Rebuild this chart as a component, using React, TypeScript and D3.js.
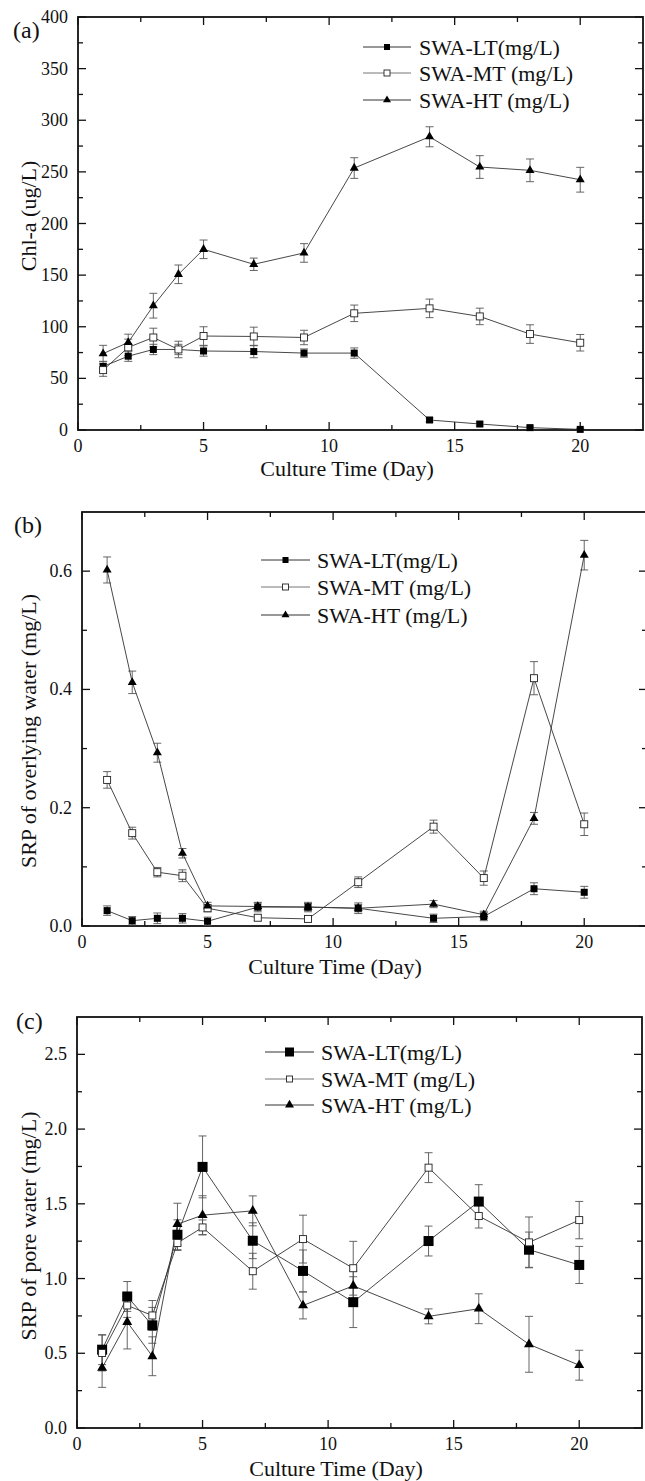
import React, { useEffect, useRef } from 'react';
import * as d3 from 'd3';

// sampling days
const days = [1, 2, 3, 4, 5, 7, 9, 11, 14, 16, 18, 20];

// (a) Chl-a (ug/L)
const chlLT = [61.5, 71.5, 78, 78, 76.5, 76, 74.5, 74.5, 9.7, 5.8, 2.3, 0.6];
const chlLTErr = [5, 5, 5, 5, 5, 6, 4, 5, 2, 2, 1.5, 1];
const chlMT = [58, 80, 89.6, 78, 91, 90.6, 89.6, 113, 117.8, 110, 92.9, 84.5];
const chlMTErr = [6, 8, 9, 8, 9, 9, 7, 8, 9, 8, 9, 8];
const chlHT = [74, 84.8, 120.4, 150.8, 175, 160.5, 171.5, 253.7, 284, 254.7, 251.5, 242.4];
const chlHTErr = [8, 8, 12, 9, 9, 6, 9, 10, 9.7, 11, 11, 12];

// (b) SRP of overlying water (mg/L)
const ovLT = [0.026, 0.009, 0.013, 0.013, 0.008, 0.032, 0.032, 0.03, 0.013, 0.016, 0.063, 0.057];
const ovLTErr = [0.008, 0.007, 0.009, 0.008, 0.007, 0.008, 0.008, 0.009, 0.007, 0.007, 0.01, 0.01];
const ovMT = [0.247, 0.157, 0.091, 0.085, 0.03, 0.014, 0.012, 0.074, 0.168, 0.081, 0.419, 0.172];
const ovMTErr = [0.014, 0.01, 0.008, 0.01, 0.006, 0.005, 0.005, 0.009, 0.011, 0.012, 0.028, 0.019];
const ovHT = [0.602, 0.412, 0.293, 0.123, 0.034, 0.033, 0.032, 0.03, 0.037, 0.019, 0.182, 0.627];
const ovHTErr = [0.022, 0.019, 0.016, 0.008, 0.006, 0.006, 0.006, 0.006, 0.006, 0.006, 0.01, 0.025];

// (c) SRP of pore water (mg/L)
const poLT = [0.524, 0.88, 0.687, 1.293, 1.747, 1.253, 1.051, 0.842, 1.251, 1.515, 1.193, 1.091];
const poLTErr = [0.1, 0.1, 0.12, 0.1, 0.207, 0.12, 0.14, 0.17, 0.1, 0.113, 0.118, 0.124];
const poMT = [0.502, 0.82, 0.753, 1.238, 1.342, 1.049, 1.264, 1.069, 1.742, 1.418, 1.242, 1.391];
const poMTErr = [0.12, 0.08, 0.1, 0.05, 0.05, 0.12, 0.16, 0.18, 0.1, 0.08, 0.17, 0.125];
const poHT = [0.402, 0.709, 0.48, 1.364, 1.424, 1.453, 0.82, 0.951, 0.747, 0.798, 0.56, 0.42];
const poHTErr = [0.13, 0.18, 0.13, 0.14, 0.13, 0.1, 0.09, 0.1, 0.05, 0.1, 0.187, 0.1];

const legendLabels = ['SWA-LT(mg/L)', 'SWA-MT (mg/L)', 'SWA-HT (mg/L)'];
const xTitle = 'Culture Time (Day)';

const FONT = "'Liberation Serif', Tinos, 'Times New Roman', Times, 'DejaVu Serif', serif";

const panels = [
  {
    letter: '(a)', letterX: 13, letterY: 38,
    left: 78, right: 643, top: 17, bottom: 430,
    yMax: 400, yMajor: 50, fmt: d3.format('d'),
    yTitle: 'Chl-a (ug/L)', yTitleY: 216, xTitleX: 347, xTitleDy: 46,
    series: [[chlLT, chlLTErr], [chlMT, chlMTErr], [chlHT, chlHTErr]],
    legend: { x1: 363, x2: 411, tx: 419, rows: [47, 73, 100] },
    sq: 7, tri: 9, legSq: 6,
  },
  {
    letter: '(b)', letterX: 14, letterY: 533,
    left: 82, right: 647, top: 512, bottom: 926,
    yMax: 0.7, yMajor: 0.2, fmt: d3.format('.1f'),
    yTitle: 'SRP of overlying water (mg/L)', yTitleY: 731, xTitleX: 335, xTitleDy: 48,
    series: [[ovLT, ovLTErr], [ovMT, ovMTErr], [ovHT, ovHTErr]],
    legend: { x1: 261, x2: 310, tx: 317, rows: [560, 587, 615] },
    sq: 7, tri: 9, legSq: 6,
  },
  {
    letter: '(c)', letterX: 16, letterY: 1029,
    left: 77, right: 642, top: 1017, bottom: 1428,
    yMax: 2.75, yMajor: 0.5, fmt: d3.format('.1f'),
    yTitle: 'SRP of pore water (mg/L)', yTitleY: 1226, xTitleX: 336, xTitleDy: 48,
    series: [[poLT, poLTErr], [poMT, poMTErr], [poHT, poHTErr]],
    legend: { x1: 265, x2: 314, tx: 321, rows: [1052, 1079, 1105] },
    sq: 10, tri: 10, legSq: 9,
  },
];

function txt(g, x, y, s, size, anchor = 'start', rot = false) {
  g.append('text')
    .attr('transform', rot ? `translate(${x},${y}) rotate(-90)` : `translate(${x},${y})`)
    .style('font-family', FONT)
    .style('font-size', `${size}px`)
    .attr('text-anchor', anchor)
    .attr('fill', '#111')
    .text(s);
}

function marker(g, kind, cx, cy, p, inLegend = false) {
  if (kind === 2) {
    const side = inLegend ? p.tri - 1 : p.tri;
    g.append('path')
      .attr('d', d3.symbol(d3.symbolTriangle, (Math.sqrt(3) / 4) * side * side)())
      .attr('transform', `translate(${cx},${cy})`)
      .attr('fill', '#000');
  } else if (kind === 0) {
    const s = inLegend ? p.legSq : p.sq;
    g.append('rect')
      .attr('x', cx - s / 2).attr('y', cy - s / 2)
      .attr('width', s).attr('height', s)
      .attr('fill', '#000');
  } else {
    const s = inLegend ? 6 : 7;
    g.append('rect')
      .attr('x', cx - s / 2).attr('y', cy - s / 2)
      .attr('width', s).attr('height', s)
      .attr('fill', '#fff').attr('stroke', '#222').attr('stroke-width', 0.9);
  }
}

function drawPanel(svg, p) {
  const g = svg.append('g');
  const x = d3.scaleLinear().domain([0, 22.5]).range([p.left, p.right]);
  const y = d3.scaleLinear().domain([0, p.yMax]).range([p.bottom, p.top]);
  const axisCol = '#111';

  // ticks point inward, mirrored on top/right
  const xMaj = d3.range(0, 21, 5);
  const xMin = d3.range(2.5, 22, 5);
  const yMaj = d3.range(0, p.yMax + 1e-9, p.yMajor);
  const yMin = d3.range(p.yMajor / 2, p.yMax - 1e-9, p.yMajor);
  const tick = (x1, y1, x2, y2) =>
    g.append('line').attr('x1', x1).attr('y1', y1).attr('x2', x2).attr('y2', y2)
      .attr('stroke', axisCol).attr('stroke-width', 1.3);
  [[xMaj, 8], [xMin, 5]].forEach(([vals, len]) => {
    vals.forEach((v) => {
      tick(x(v), p.bottom, x(v), p.bottom - len);
      tick(x(v), p.top, x(v), p.top + len);
    });
  });
  [[yMaj, 8], [yMin, 5]].forEach(([vals, len]) => {
    vals.forEach((v) => {
      tick(p.left, y(v), p.left + len, y(v));
      tick(p.right, y(v), p.right - len, y(v));
    });
  });

  g.append('rect')
    .attr('x', p.left).attr('y', p.top)
    .attr('width', p.right - p.left).attr('height', p.bottom - p.top)
    .attr('fill', 'none').attr('stroke', axisCol).attr('stroke-width', 1.8);

  xMaj.forEach((v) => txt(g, x(v), p.bottom + 22, String(v), 18, 'middle'));
  yMaj.forEach((v) => txt(g, p.left - 10, y(v) + 6, p.fmt(v), 18, 'end'));

  txt(g, p.xTitleX, p.bottom + p.xTitleDy, xTitle, 22, 'middle');
  txt(g, 36, p.yTitleY, p.yTitle, 22, 'middle', true);
  txt(g, p.letterX, p.letterY, p.letter, 24, 'start');

  const line = d3.line().x((d) => x(d[0])).y((d) => y(d[1]));

  p.series.forEach(([vals, errs]) => {
    vals.forEach((v, i) => {
      const cx = x(days[i]);
      const y0 = y(v - errs[i]);
      const y1 = y(v + errs[i]);
      const eb = g.append('g').attr('stroke', '#555').attr('stroke-width', 0.9);
      eb.append('line').attr('x1', cx).attr('x2', cx).attr('y1', y0).attr('y2', y1);
      eb.append('line').attr('x1', cx - 4).attr('x2', cx + 4).attr('y1', y0).attr('y2', y0);
      eb.append('line').attr('x1', cx - 4).attr('x2', cx + 4).attr('y1', y1).attr('y2', y1);
    });
    g.append('path')
      .attr('d', line(days.map((d, i) => [d, vals[i]])))
      .attr('fill', 'none').attr('stroke', '#333').attr('stroke-width', 0.9);
  });
  p.series.forEach(([vals], k) => {
    vals.forEach((v, i) => marker(g, k, x(days[i]), y(v), p));
  });

  // legend
  const L = p.legend;
  legendLabels.forEach((lab, k) => {
    const cy = L.rows[k];
    g.append('line').attr('x1', L.x1).attr('x2', L.x2).attr('y1', cy).attr('y2', cy)
      .attr('stroke', k === 1 ? '#777' : '#333').attr('stroke-width', 1);
    marker(g, k, (L.x1 + L.x2) / 2, cy, p, true);
    txt(g, L.tx, cy + 7.5, lab, 22, 'start');
  });
}

export default function App() {
  const ref = useRef(null);

  useEffect(() => {
    if (!ref.current) return;
    const svg = d3.select(ref.current);
    svg.selectAll('*').remove();
    panels.forEach((p) => drawPanel(svg, p));
  }, []);

  return (
    <svg
      ref={ref}
      width={645}
      height={1481}
      style={{ position: 'absolute', left: 0, top: 0, background: '#fff' }}
    />
  );
}
